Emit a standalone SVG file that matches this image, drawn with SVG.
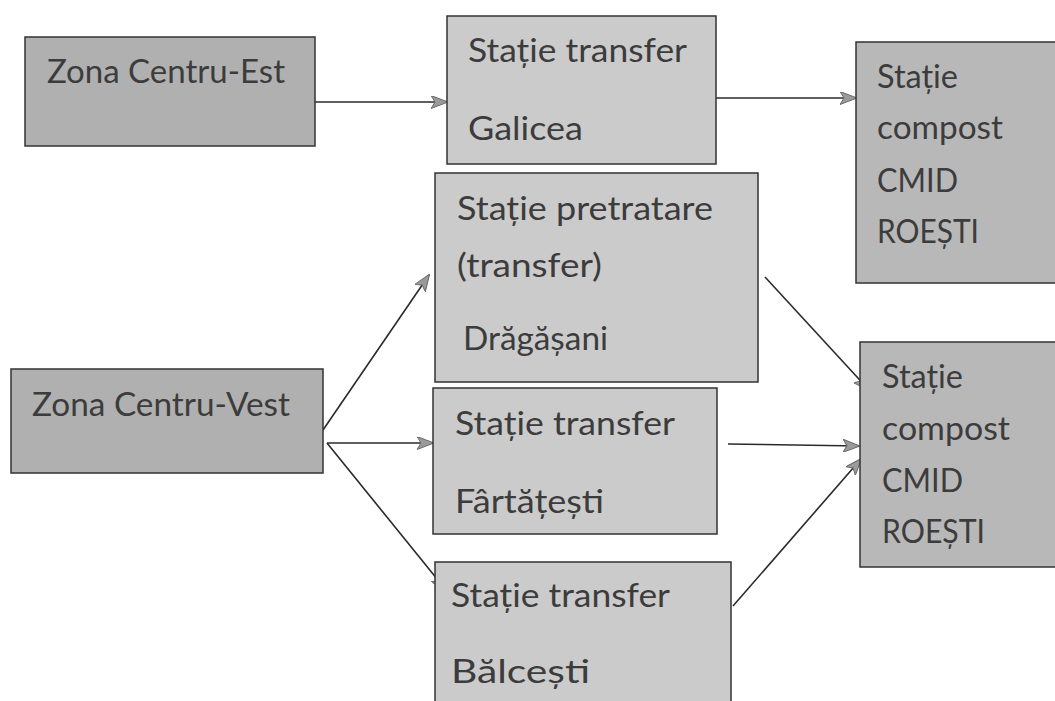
<svg xmlns="http://www.w3.org/2000/svg" width="1055" height="701" viewBox="0 0 1055 701">
<defs>
<style>
.box{stroke:#333;stroke-width:1.5}
.dark{fill:#b0b0b0}
.mid{fill:#b8b8b8}
.light{fill:#cbcbcb}
text{font-family:Lato,"Liberation Sans",sans-serif;font-size:32px;fill:#3c3c3c}
.conn line{stroke:#2a2a2a;stroke-width:1.6;fill:none;marker-end:url(#ah)}
</style>
<marker id="ah" viewBox="0 0 17 13" refX="16" refY="6.5" markerWidth="17" markerHeight="13" markerUnits="userSpaceOnUse" orient="auto">
<path d="M0,0 L17,6.5 L0,13 L4,6.5 Z" fill="#9a9a9a" stroke="#6a6a6a" stroke-width="1"/>
</marker>
</defs>
<rect width="1055" height="701" fill="#ffffff"/>
<g class="conn">
<line x1="315" y1="102" x2="447" y2="102"/>
<line x1="716" y1="98" x2="856" y2="98"/>
<line x1="323" y1="430" x2="429" y2="275"/>
<line x1="327" y1="443" x2="433" y2="443"/>
<line x1="327" y1="443" x2="446" y2="590"/>
<line x1="765" y1="277" x2="869" y2="390"/>
<line x1="728" y1="444" x2="859" y2="446"/>
<line x1="733" y1="606" x2="861" y2="459"/>
</g>
<g id="zona-est"><rect class="box dark" x="25" y="37" width="290" height="109"/><text x="47" y="83" textLength="238" lengthAdjust="spacingAndGlyphs">Zona Centru-Est</text></g>
<g id="galicea"><rect class="box light" x="447" y="16" width="269" height="148"/><text x="468" y="62" textLength="219" lengthAdjust="spacingAndGlyphs">Stație transfer</text><text x="468" y="140" textLength="115" lengthAdjust="spacingAndGlyphs">Galicea</text></g>
<g id="compost-1"><rect class="box mid" x="856" y="42" width="205" height="241"/><text x="877" y="88" textLength="81" lengthAdjust="spacingAndGlyphs">Stație</text><text x="877" y="139" textLength="126" lengthAdjust="spacingAndGlyphs">compost</text><text x="877" y="192" textLength="81" lengthAdjust="spacingAndGlyphs">CMID</text><text x="877" y="243" textLength="102" lengthAdjust="spacingAndGlyphs">ROEȘTI</text></g>
<g id="dragasani"><rect class="box light" x="435" y="173" width="323" height="209"/><text x="457" y="220" textLength="256" lengthAdjust="spacingAndGlyphs">Stație pretratare</text><text x="457" y="277" textLength="145" lengthAdjust="spacingAndGlyphs">(transfer)</text><text x="463" y="350" textLength="145" lengthAdjust="spacingAndGlyphs">Drăgășani</text></g>
<g id="zona-vest"><rect class="box dark" x="11" y="369" width="312" height="104"/><text x="32" y="416" textLength="258" lengthAdjust="spacingAndGlyphs">Zona Centru-Vest</text></g>
<g id="fartatesti"><rect class="box light" x="433" y="388" width="284" height="146"/><text x="455" y="435" textLength="220" lengthAdjust="spacingAndGlyphs">Stație transfer</text><text x="455" y="513" textLength="149" lengthAdjust="spacingAndGlyphs">Fârtățești</text></g>
<g id="compost-2"><rect class="box mid" x="860" y="342" width="201" height="225"/><text x="882" y="388" textLength="81" lengthAdjust="spacingAndGlyphs">Stație</text><text x="882" y="440" textLength="128" lengthAdjust="spacingAndGlyphs">compost</text><text x="882" y="492" textLength="81" lengthAdjust="spacingAndGlyphs">CMID</text><text x="882" y="543" textLength="103" lengthAdjust="spacingAndGlyphs">ROEȘTI</text></g>
<g id="balcesti"><rect class="box light" x="435" y="562" width="296" height="150"/><text x="451" y="607" textLength="219" lengthAdjust="spacingAndGlyphs">Stație transfer</text><text x="451" y="683" textLength="139" lengthAdjust="spacingAndGlyphs">Bălcești</text></g>
</svg>
